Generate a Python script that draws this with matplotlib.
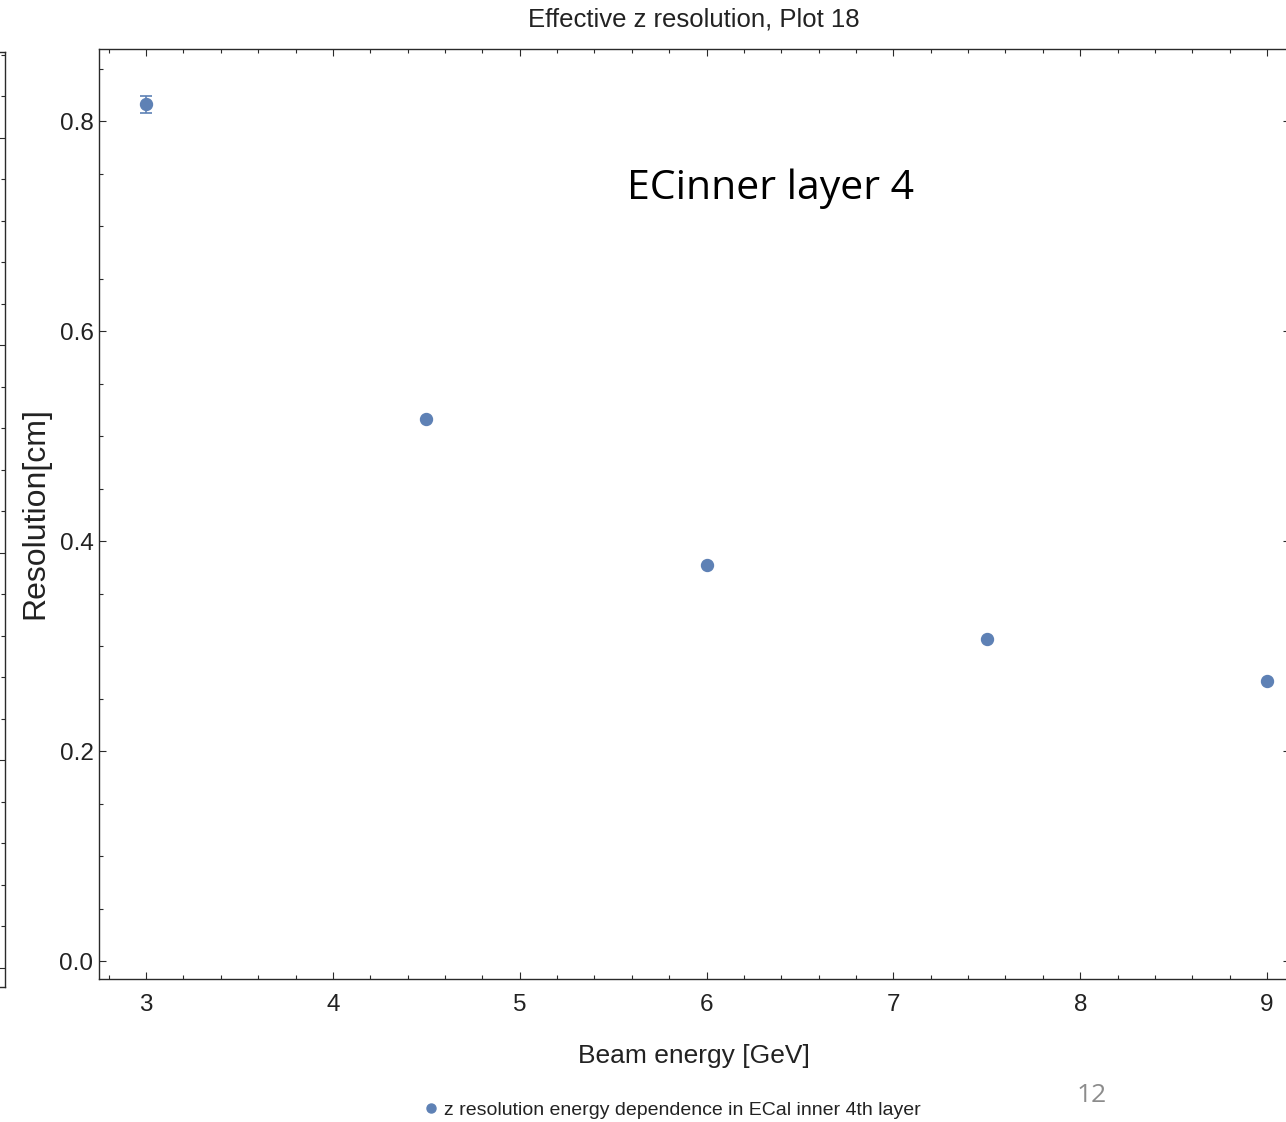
import numpy as np
import matplotlib
matplotlib.use("Agg")
import matplotlib.pyplot as plt
from matplotlib import font_manager
from matplotlib.ticker import MultipleLocator
from matplotlib.lines import Line2D

# beam energies [GeV] and resolution [cm]
energy = [3.0, 4.5, 6.0, 7.5, 9.0]
resolution = [0.816, 0.516, 0.377, 0.307, 0.267]
res_err = [0.008, 0.0, 0.0, 0.0, 0.0]
xticks = [3, 4, 5, 6, 7, 8, 9]
yticks = [0.0, 0.2, 0.4, 0.6, 0.8]

names = {f.name for f in font_manager.fontManager.ttflist}
NARROW = ["Liberation Sans Narrow", "Liberation Sans", "DejaVu Sans"]
NARROW = [n for n in NARROW if n in names] or ["DejaVu Sans"]
PT = "#5E81B5"; FR = "#2a2a2a"

W, H = 1286, 1122
fig = plt.figure(figsize=(W / 100, H / 100), dpi=100)
fx = lambda px: px / W
fy = lambda py: 1 - py / H

# leftover frame edge of a neighbouring plot at the far left
ghost = fig.add_axes([fx(-100), fy(987), fx(105), fy(52) - fy(987)])
ghost.set_xlim(0, 1); ghost.set_ylim(-0.458, 22.07)
ghost.yaxis.set_major_locator(MultipleLocator(5)); ghost.yaxis.set_minor_locator(MultipleLocator(1))
ghost.tick_params(axis="y", which="both", direction="in", left=False, right=True, labelleft=False, color=FR, width=0.8)
ghost.tick_params(axis="y", which="major", length=5); ghost.tick_params(axis="y", which="minor", length=3)
ghost.set_xticks([])
for s in ghost.spines.values(): s.set_color(FR); s.set_linewidth(1.0)

# main axes (right edge runs just past the figure)
ax = fig.add_axes([fx(99), fy(979), fx(1290 - 99), fy(49) - fy(979)])
ax.errorbar(energy, resolution, yerr=res_err, fmt="o", color=PT, ms=8.6, capsize=4.3, elinewidth=1.2, capthick=1.2, zorder=3)
ax.set_xlim(2.748, 9.123)
ax.set_ylim(-0.0171, 0.8686)
ax.set_xticks(xticks); ax.set_yticks(yticks)
ax.set_xticklabels([str(t) for t in xticks]); ax.set_yticklabels([f"{t:.1f}" for t in yticks])
ax.xaxis.set_minor_locator(MultipleLocator(0.2)); ax.yaxis.set_minor_locator(MultipleLocator(0.05))
ax.tick_params(which="both", direction="in", top=True, right=True, color=FR, width=0.8)
ax.tick_params(which="major", length=5); ax.tick_params(which="minor", length=3)
ax.tick_params(axis="x", pad=11); ax.tick_params(axis="y", pad=4)
for lab in ax.get_xticklabels() + ax.get_yticklabels():
    lab.set_family(NARROW); lab.set_fontsize(17.5); lab.set_color("#222222")
for s in ax.spines.values(): s.set_color(FR); s.set_linewidth(1.0)

fig.text(fx(694), fy(19), "Effective z resolution, Plot 18", ha="center", va="center", family=NARROW, fontsize=18.5, color="#222222")
fig.text(fx(694), fy(1056), "Beam energy [GeV]", ha="center", va="center", family=NARROW, fontsize=19, color="#222222")
fig.text(fx(35), fy(513), "Resolution[cm]", ha="center", va="center", rotation=90, family=NARROW, fontsize=23, color="#222222")
fig.text(fx(627), fy(199), "ECinner layer 4", ha="left", va="baseline", family=["Open Sans", "DejaVu Sans"], fontsize=29.5, color="black")
fig.text(fx(1092), fy(1095), "12", ha="center", va="center", family=["Open Sans", "DejaVu Sans"], fontsize=19, color="#8c8c8c")

handle = Line2D([], [], ls="none", marker="o", ms=6.5, color=PT)
leg = fig.legend([handle], ["z resolution energy dependence in ECal inner 4th layer"], loc="center",
                 bbox_to_anchor=(fx(672), fy(1110)), frameon=False, handlelength=0.8, handletextpad=0.3,
                 prop={"family": NARROW, "size": 14})
for t in leg.get_texts(): t.set_color("#222222")

fig.savefig("out.png", dpi=100, facecolor="white")
